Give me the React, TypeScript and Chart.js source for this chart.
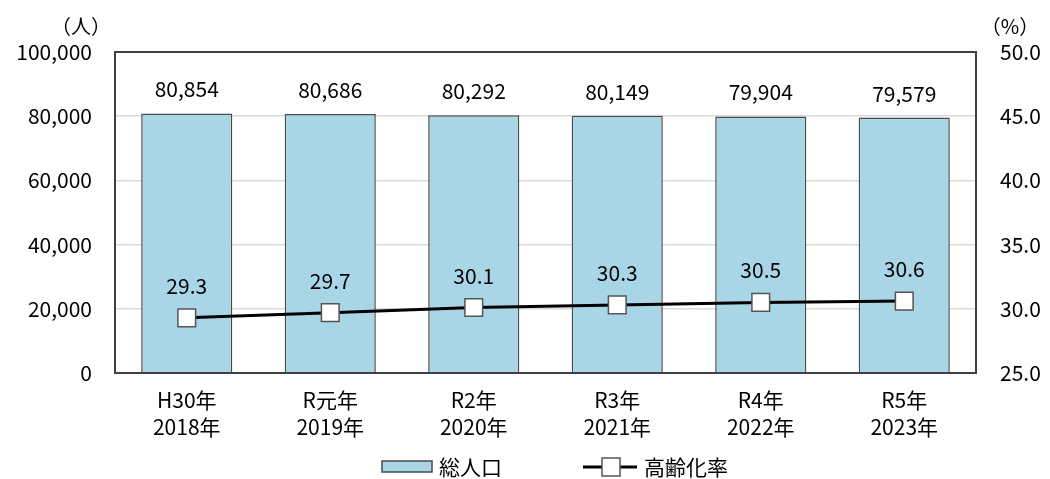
import React, { useEffect, useRef } from "react";
import { Chart, registerables } from "chart.js";

Chart.register(...registerables);

const categories: string[][] = [
  ["H30年", "2018年"],
  ["R元年", "2019年"],
  ["R2年", "2020年"],
  ["R3年", "2021年"],
  ["R4年", "2022年"],
  ["R5年", "2023年"],
];
const population: number[] = [80854, 80686, 80292, 80149, 79904, 79579];
const agingRate: number[] = [29.3, 29.7, 30.1, 30.3, 30.5, 30.6];
const popLabel = "総人口";
const rateLabel = "高齢化率";
const leftUnit = "（人）";
const rightUnit = "（%）";

const FONT = "'Noto Sans CJK JP', 'Noto Sans', sans-serif";
const BAR_FILL = "#a9d6e6";
const BAR_BORDER = "#4a4a4a";

const fmtInt = (v: number) => v.toLocaleString("en-US");

const overlayPlugin = {
  id: "overlay",
  afterDatasetsDraw(chart: any) {
    const ctx = chart.ctx;
    const { left, top, right, bottom } = chart.chartArea;
    ctx.save();
    ctx.strokeStyle = "#404040";
    ctx.lineWidth = 2;
    ctx.strokeRect(left, top, right - left, bottom - top);

    ctx.fillStyle = "#000";
    ctx.font = `21px ${FONT}`;
    ctx.textAlign = "center";
    ctx.textBaseline = "middle";
    const barMeta = chart.getDatasetMeta(0);
    barMeta.data.forEach((el: any, i: number) => {
      ctx.fillText(fmtInt(population[i]), el.x, el.y - 24);
    });
    const lineMeta = chart.getDatasetMeta(1);
    lineMeta.data.forEach((el: any, i: number) => {
      ctx.fillText(agingRate[i].toFixed(1), el.x, el.y - 32);
    });

    ctx.font = `20px ${FONT}`;
    ctx.fillText(leftUnit, 81, 26);
    ctx.fillText(rightUnit, 1010, 26);

    const ly = 467;
    ctx.fillStyle = BAR_FILL;
    ctx.fillRect(382, 461, 50, 11);
    ctx.strokeStyle = BAR_BORDER;
    ctx.lineWidth = 1.5;
    ctx.strokeRect(382, 461, 50, 11);
    ctx.fillStyle = "#000";
    ctx.textAlign = "left";
    ctx.font = `21px ${FONT}`;
    ctx.fillText(popLabel, 439, ly);

    ctx.strokeStyle = "#000";
    ctx.lineWidth = 3;
    ctx.beginPath();
    ctx.moveTo(583, ly);
    ctx.lineTo(637, ly);
    ctx.stroke();
    ctx.fillStyle = "#fff";
    ctx.fillRect(602, ly - 9, 18, 18);
    ctx.strokeStyle = "#555";
    ctx.lineWidth = 1.5;
    ctx.strokeRect(602, ly - 9, 18, 18);
    ctx.fillStyle = "#000";
    ctx.fillText(rateLabel, 644, ly);
    ctx.restore();
  },
};

export default function App() {
  const ref = useRef<HTMLCanvasElement | null>(null);
  useEffect(() => {
    document.body.style.margin = "0";
    const canvas = ref.current!;
    const chart = new Chart(canvas, {
      type: "bar",
      data: {
        labels: categories,
        datasets: [
          {
            type: "bar",
            label: popLabel,
            data: population,
            backgroundColor: BAR_FILL,
            borderColor: BAR_BORDER,
            borderWidth: 1.5,
            barPercentage: 0.635,
            categoryPercentage: 1,
            yAxisID: "y",
            order: 2,
          },
          {
            type: "line",
            label: rateLabel,
            data: agingRate,
            borderColor: "#000",
            borderWidth: 3,
            pointStyle: "rect",
            pointRadius: 12.5,
            pointBackgroundColor: "#fff",
            pointBorderColor: "#555",
            pointBorderWidth: 1.5,
            yAxisID: "y1",
            order: 1,
          } as any,
        ],
      },
      options: {
        responsive: false,
        animation: false,
        layout: { padding: { top: 52, left: 0, right: 0, bottom: 0 } },
        plugins: {
          legend: { display: false },
          tooltip: { enabled: false },
        },
        scales: {
          x: {
            grid: { display: false },
            border: { display: false },
            ticks: {
              color: "#000",
              font: { family: FONT, size: 21, lineHeight: 1.3 },
              padding: 5,
              maxRotation: 0,
            },
            afterFit: (s: any) => {
              s.height = 106;
            },
          },
          y: {
            position: "left",
            min: 0,
            max: 100000,
            ticks: {
              stepSize: 20000,
              color: "#000",
              font: { family: FONT, size: 21 },
              padding: 23,
              callback: (v: any) => fmtInt(Number(v)),
            },
            grid: { color: "#d9d9d9", lineWidth: 1.5, drawTicks: false },
            border: { display: false },
            afterFit: (s: any) => {
              s.width = 115;
            },
          },
          y1: {
            position: "right",
            min: 25,
            max: 50,
            ticks: {
              stepSize: 5,
              color: "#000",
              font: { family: FONT, size: 21 },
              padding: 24,
              callback: (v: any) => Number(v).toFixed(1),
            },
            grid: { display: false, drawTicks: false },
            border: { display: false },
            afterFit: (s: any) => {
              s.width = 74;
            },
          },
        },
      },
      plugins: [overlayPlugin],
    });
    return () => chart.destroy();
  }, []);
  return <canvas ref={ref} width={1050} height={479} style={{ display: "block" }} />;
}
